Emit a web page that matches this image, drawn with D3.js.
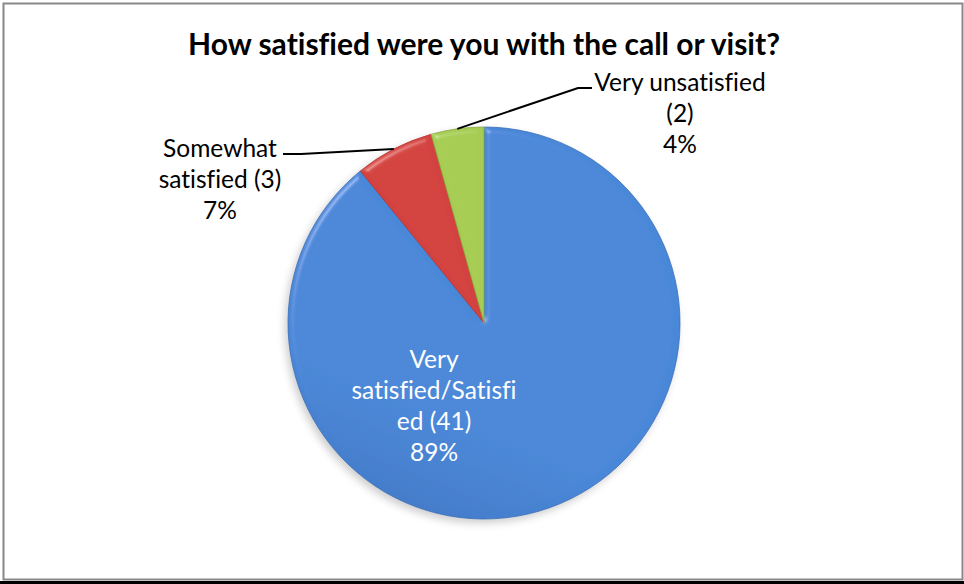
<!DOCTYPE html>
<html>
<head>
<meta charset="utf-8">
<script src="https://cdn.jsdelivr.net/npm/d3@7/dist/d3.min.js"></script>
<style>
  html, body { margin: 0; padding: 0; background: #fff; }
  svg { display: block; }
  text { font-family: Lato, "Open Sans", sans-serif; font-variant-ligatures: none; font-feature-settings: "liga" 0; }
</style>
</head>
<body>
<svg id="chart" width="964" height="584"></svg>
<script>
// Survey responses
const title = "How satisfied were you with the call or visit?";
const categories = ["Very satisfied/Satisfied", "Somewhat satisfied", "Very unsatisfied"];
const counts = [41, 3, 2];
const labelLines = [
  ["Very", "satisfied/Satisfi", "ed (41)"],
  ["Somewhat", "satisfied (3)"],
  ["Very unsatisfied", "(2)"]
];
const colors = ["#4a88d8", "#d3433f", "#a6cc52"];
const darkColors = ["#3b6db8", "#b7332f", "#87aa3c"];

const W = 964, H = 584;
const cx = 484, cy = 323, R = 196;
const svg = d3.select("#chart");

// Frame
svg.append("rect").attr("x", 3.5).attr("y", 3.5).attr("width", 959).attr("height", 576)
  .attr("fill", "#fff").attr("stroke", "#888").attr("stroke-width", 2);
svg.append("rect").attr("x", 0).attr("y", 581).attr("width", W).attr("height", 3).attr("fill", "#000");

// Title
svg.append("text").attr("x", cx).attr("y", 55).attr("text-anchor", "middle")
  .attr("font-size", 30).attr("font-weight", 700).attr("fill", "#000").text(title);

const defs = svg.append("defs");
colors.forEach((c, i) => {
  const g = defs.append("linearGradient").attr("id", "grad" + i)
    .attr("gradientUnits", "userSpaceOnUse")
    .attr("x1", cx + R * 0.4).attr("y1", cy - R).attr("x2", cx - R * 0.4).attr("y2", cy + R);
  g.append("stop").attr("offset", "0%").attr("stop-color", c);
  g.append("stop").attr("offset", "45%").attr("stop-color", c);
  g.append("stop").attr("offset", "100%").attr("stop-color", darkColors[i]);
});

// Soft bevel on slices
const bevel = defs.append("filter").attr("id", "bevel")
  .attr("x", "-10%").attr("y", "-10%").attr("width", "120%").attr("height", "120%");
bevel.append("feGaussianBlur").attr("in", "SourceAlpha").attr("stdDeviation", 3).attr("result", "blur");
const spec = bevel.append("feSpecularLighting").attr("in", "blur").attr("surfaceScale", 4)
  .attr("specularConstant", 0.6).attr("specularExponent", 40).attr("lighting-color", "#ffffff")
  .attr("result", "spec");
spec.append("feDistantLight").attr("azimuth", 225).attr("elevation", 40);
bevel.append("feComposite").attr("in", "spec").attr("in2", "SourceAlpha").attr("operator", "in").attr("result", "specIn");
bevel.append("feComposite").attr("in", "SourceGraphic").attr("in2", "specIn").attr("operator", "arithmetic")
  .attr("k1", 0).attr("k2", 1).attr("k3", 0.35).attr("k4", 0);

// Shadow under the pie
const shadow = defs.append("filter").attr("id", "shadow")
  .attr("x", "-20%").attr("y", "-20%").attr("width", "140%").attr("height", "140%");
shadow.append("feGaussianBlur").attr("stdDeviation", 4);

const pie = d3.pie().sort(null).value(d => d);
const arcs = pie(counts);
const arc = d3.arc().innerRadius(0).outerRadius(R);
const total = d3.sum(counts);

const g = svg.append("g").attr("transform", `translate(${cx},${cy})`);
g.append("circle").attr("cx", -3).attr("cy", 4).attr("r", R).attr("fill", "#000")
  .attr("opacity", 0.2).attr("filter", "url(#shadow)");

g.selectAll("path.slice").data(arcs).enter().append("path")
  .attr("class", "slice")
  .attr("d", arc)
  .attr("fill", (d, i) => `url(#grad${i})`)
  .attr("stroke", (d, i) => darkColors[i])
  .attr("stroke-width", 0.8)
  .attr("filter", "url(#bevel)");

// Label layout: anchor x, first baseline, leader elbow
const lineH = 31;
const labelPos = [
  { x: 434, y: 368 },
  { x: 220, y: 157, leader: [[283, 154], [301, 154]] },
  { x: 680, y: 91, leader: [[592, 88], [578, 88]] }
];

arcs.forEach((d, i) => {
  const p = labelPos[i];
  const pct = Math.round(d.data / total * 100) + "%";
  const lines = labelLines[i].concat([pct]);
  const inside = i === 0;
  const t = svg.append("text").attr("text-anchor", "middle").attr("font-size", 24.5)
    .attr("fill", inside ? "#fff" : "#000");
  lines.forEach((ln, k) => {
    t.append("tspan").attr("x", p.x).attr("y", p.y + k * lineH).text(ln);
  });
  if (p.leader) {
    const mid = (d.startAngle + d.endAngle) / 2;
    const edge = [cx + R * Math.sin(mid), cy - R * Math.cos(mid)];
    svg.append("path")
      .attr("d", d3.line()(p.leader.concat([edge])))
      .attr("fill", "none").attr("stroke", "#000").attr("stroke-width", 2);
  }
});
</script>
</body>
</html>
